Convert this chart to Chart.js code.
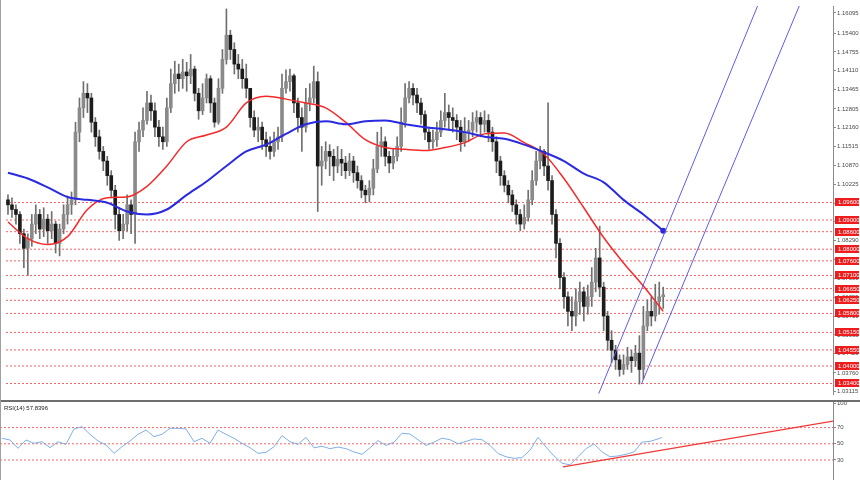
<!DOCTYPE html>
<html>
<head>
<meta charset="utf-8">
<title>EURUSD H4 with RSI</title>
<script src="https://cdn.jsdelivr.net/npm/chart.js@4.4.1/dist/chart.umd.min.js"></script>
<style>
  html, body { margin: 0; padding: 0; background: #fff; }
  #wrap { position: relative; width: 860px; height: 480px; overflow: hidden; }
  #priceBox { position: absolute; left: 0; top: 0; width: 860px; height: 400px; }
  #sep { position: absolute; left: 0; top: 400px; width: 860px; height: 2px; background: #6e6e6e; }
  #rsiBox { position: absolute; left: 0; top: 402px; width: 860px; height: 78px; }
  #edge { position: absolute; left: 0; top: 0; width: 1px; height: 480px; background: #a0a0a0; }
</style>
</head>
<body>
<div id="wrap">
  <div id="priceBox"><canvas id="priceChart"></canvas></div>
  <div id="sep"></div>
  <div id="rsiBox"><canvas id="rsiChart"></canvas></div>
  <div id="edge"></div>
</div>
<script>
// candles, one per bar index
const opens = [
  1.0969, 1.0952, 1.0936, 1.0919, 1.0853, 1.0803, 1.0836, 1.0886, 1.0919, 1.0869,
  1.0903, 1.0863, 1.0886, 1.0820, 1.0869, 1.0919, 1.0952, 1.0969, 1.1201, 1.1284,
  1.1334, 1.1318, 1.1235, 1.1185, 1.1135, 1.1102, 1.1052, 1.1002, 1.0919, 1.0863,
  1.0886, 1.0952, 1.0919, 1.1168, 1.1208, 1.1241, 1.1301, 1.1274, 1.1218, 1.1185,
  1.1168, 1.1284, 1.1367, 1.1400, 1.1384, 1.1407, 1.1394, 1.1417, 1.1334, 1.1274,
  1.1318, 1.1384, 1.1301, 1.1235, 1.1351, 1.1450, 1.1533, 1.1484, 1.1434, 1.1417,
  1.1384, 1.1351, 1.1251, 1.1208, 1.1218, 1.1175, 1.1152, 1.1135, 1.1168, 1.1185,
  1.1351, 1.1374, 1.1394, 1.1301, 1.1251, 1.1218, 1.1301, 1.1318, 1.1374, 1.1085,
  1.1102, 1.1135, 1.1118, 1.1085, 1.1108, 1.1095, 1.1069, 1.1102, 1.1062, 1.1035,
  1.1002, 1.0986, 1.1009, 1.1075, 1.1152, 1.1168, 1.1118, 1.1095, 1.1118, 1.1152,
  1.1235, 1.1318, 1.1351, 1.1328, 1.1301, 1.1261, 1.1201, 1.1168, 1.1175, 1.1201,
  1.1241, 1.1268, 1.1251, 1.1241, 1.1218, 1.1168, 1.1201, 1.1208, 1.1235, 1.1251,
  1.1228, 1.1241, 1.1201, 1.1168, 1.1102, 1.1052, 1.1019, 1.0986, 1.0952, 1.0919,
  1.0886, 1.0909, 1.0969, 1.1035, 1.1102, 1.1135, 1.1085, 1.1035, 1.0919, 1.0820,
  1.0703, 1.0637, 1.0587, 1.0571, 1.0620, 1.0654, 1.0604, 1.0637, 1.0687, 1.0770,
  1.0670, 1.0571, 1.0488, 1.0454, 1.0421, 1.0388, 1.0405, 1.0431, 1.0418, 1.0444,
  1.0388, 1.0537, 1.0587, 1.0571, 1.0620, 1.0637
];
const highs = [
  1.0986, 1.0976, 1.0952, 1.0929, 1.0869, 1.0853, 1.0919, 1.0952, 1.0936, 1.0942,
  1.0919, 1.0929, 1.0896, 1.0886, 1.0952, 1.0982, 1.0996, 1.1235, 1.1318, 1.1374,
  1.1367, 1.1334, 1.1251, 1.1208, 1.1152, 1.1118, 1.1069, 1.1019, 1.0942, 1.0919,
  1.0986, 1.0969, 1.1201, 1.1235, 1.1284, 1.1341, 1.1328, 1.1301, 1.1241, 1.1218,
  1.1318, 1.1417, 1.1444, 1.1434, 1.1450, 1.1440, 1.1467, 1.1427, 1.1351, 1.1367,
  1.1400, 1.1394, 1.1318, 1.1384, 1.1484, 1.1623, 1.1550, 1.1507, 1.1467, 1.1450,
  1.1434, 1.1351, 1.1274, 1.1251, 1.1235, 1.1201, 1.1185, 1.1201, 1.1218, 1.1400,
  1.1414, 1.1417, 1.1400, 1.1318, 1.1284, 1.1351, 1.1367, 1.1427, 1.1407, 1.1152,
  1.1168, 1.1158, 1.1142, 1.1152, 1.1142, 1.1118, 1.1128, 1.1118, 1.1085, 1.1052,
  1.1019, 1.1035, 1.1108, 1.1201, 1.1218, 1.1185, 1.1135, 1.1142, 1.1185, 1.1284,
  1.1367, 1.1374, 1.1367, 1.1351, 1.1318, 1.1274, 1.1218, 1.1208, 1.1235, 1.1274,
  1.1334, 1.1294, 1.1284, 1.1261, 1.1241, 1.1251, 1.1241, 1.1268, 1.1274, 1.1268,
  1.1274, 1.1261, 1.1218, 1.1185, 1.1118, 1.1069, 1.1035, 1.1002, 1.0969, 1.0936,
  1.0952, 1.1002, 1.1069, 1.1135, 1.1152, 1.1142, 1.1301, 1.1052, 1.0936, 1.0836,
  1.0720, 1.0654, 1.0637, 1.0664, 1.0687, 1.0670, 1.0677, 1.0737, 1.0803, 1.0879,
  1.0687, 1.0587, 1.0521, 1.0471, 1.0438, 1.0438, 1.0464, 1.0454, 1.0471, 1.0504,
  1.0604, 1.0627, 1.0637, 1.0680, 1.0687, 1.0670
];
const lows = [
  1.0919, 1.0909, 1.0886, 1.0820, 1.0737, 1.0710, 1.0810, 1.0853, 1.0836, 1.0843,
  1.0820, 1.0836, 1.0787, 1.0777, 1.0853, 1.0886, 1.0919, 1.0952, 1.1168, 1.1251,
  1.1268, 1.1201, 1.1152, 1.1108, 1.1069, 1.1019, 1.0976, 1.0869, 1.0830, 1.0836,
  1.0863, 1.0853, 1.0820, 1.1135, 1.1185, 1.1228, 1.1241, 1.1185, 1.1152, 1.1142,
  1.1152, 1.1268, 1.1334, 1.1341, 1.1351, 1.1341, 1.1367, 1.1308, 1.1245, 1.1261,
  1.1301, 1.1268, 1.1218, 1.1228, 1.1334, 1.1434, 1.1450, 1.1400, 1.1384, 1.1351,
  1.1318, 1.1218, 1.1185, 1.1168, 1.1142, 1.1118, 1.1108, 1.1118, 1.1142, 1.1168,
  1.1334, 1.1341, 1.1268, 1.1201, 1.1135, 1.1201, 1.1274, 1.1301, 1.0929, 1.1019,
  1.1075, 1.1052, 1.1035, 1.1062, 1.1052, 1.1042, 1.1052, 1.1029, 1.1009, 1.0976,
  1.0959, 1.0962, 1.0986, 1.1062, 1.1118, 1.1085, 1.1062, 1.1075, 1.1102, 1.1135,
  1.1218, 1.1301, 1.1294, 1.1268, 1.1228, 1.1175, 1.1142, 1.1145, 1.1152, 1.1185,
  1.1218, 1.1208, 1.1201, 1.1175, 1.1135, 1.1152, 1.1168, 1.1185, 1.1201, 1.1185,
  1.1201, 1.1168, 1.1135, 1.1062, 1.1019, 1.0996, 1.0959, 1.0929, 1.0886, 1.0863,
  1.0869, 1.0896, 1.0952, 1.1019, 1.1075, 1.1052, 1.1002, 1.0886, 1.0770, 1.0664,
  1.0597, 1.0537, 1.0521, 1.0537, 1.0577, 1.0554, 1.0577, 1.0604, 1.0654, 1.0637,
  1.0521, 1.0454, 1.0411, 1.0388, 1.0365, 1.0371, 1.0388, 1.0378, 1.0398, 1.0338,
  1.0355, 1.0521, 1.0537, 1.0554, 1.0577, 1.0597
];
const closes = [
  1.0952, 1.0936, 1.0919, 1.0853, 1.0803, 1.0836, 1.0886, 1.0919, 1.0869, 1.0903,
  1.0863, 1.0886, 1.0820, 1.0869, 1.0919, 1.0952, 1.0969, 1.1201, 1.1284, 1.1334,
  1.1318, 1.1235, 1.1185, 1.1135, 1.1102, 1.1052, 1.1002, 1.0919, 1.0863, 1.0886,
  1.0952, 1.0919, 1.1168, 1.1208, 1.1241, 1.1301, 1.1274, 1.1218, 1.1185, 1.1168,
  1.1284, 1.1367, 1.1400, 1.1384, 1.1407, 1.1394, 1.1417, 1.1334, 1.1274, 1.1318,
  1.1384, 1.1301, 1.1235, 1.1351, 1.1450, 1.1533, 1.1484, 1.1434, 1.1417, 1.1384,
  1.1351, 1.1251, 1.1208, 1.1218, 1.1175, 1.1152, 1.1135, 1.1168, 1.1185, 1.1351,
  1.1374, 1.1394, 1.1301, 1.1251, 1.1218, 1.1301, 1.1318, 1.1374, 1.1085, 1.1102,
  1.1135, 1.1118, 1.1085, 1.1108, 1.1095, 1.1069, 1.1102, 1.1062, 1.1035, 1.1002,
  1.0986, 1.1009, 1.1075, 1.1152, 1.1168, 1.1118, 1.1095, 1.1118, 1.1152, 1.1235,
  1.1318, 1.1351, 1.1328, 1.1301, 1.1261, 1.1201, 1.1168, 1.1175, 1.1201, 1.1241,
  1.1268, 1.1251, 1.1241, 1.1218, 1.1168, 1.1201, 1.1208, 1.1235, 1.1251, 1.1228,
  1.1241, 1.1201, 1.1168, 1.1102, 1.1052, 1.1019, 1.0986, 1.0952, 1.0919, 1.0886,
  1.0909, 1.0969, 1.1035, 1.1102, 1.1135, 1.1085, 1.1035, 1.0919, 1.0820, 1.0703,
  1.0637, 1.0587, 1.0571, 1.0620, 1.0654, 1.0604, 1.0637, 1.0687, 1.0770, 1.0670,
  1.0571, 1.0488, 1.0454, 1.0421, 1.0388, 1.0405, 1.0431, 1.0418, 1.0444, 1.0388,
  1.0537, 1.0587, 1.0571, 1.0620, 1.0637, 1.0644
];

// moving averages, read every 5 bars
const maIndex = [0, 5, 10, 15, 20, 25, 30, 35, 40, 45, 50, 55, 60, 65, 70, 75, 80,
  85, 90, 95, 100, 105, 110, 115, 120, 125, 130, 135, 140, 145, 150, 155, 160, 165];
const maRed = [1.0893, 1.0836, 1.0816, 1.0843, 1.0936, 1.0976, 1.0979, 1.1015, 1.1085,
  1.1168, 1.1191, 1.1218, 1.1301, 1.1324, 1.1314, 1.1301, 1.1284, 1.1235, 1.1175,
  1.1148, 1.1142, 1.1138, 1.1148, 1.1165, 1.1195, 1.1198, 1.1165, 1.1125, 1.1042,
  1.0942, 1.0840, 1.0753, 1.0674, 1.0587];
const maBlue = [1.1062, 1.1042, 1.1012, 1.0979, 1.0969, 1.0959, 1.0929, 1.0919, 1.0936,
  1.0986, 1.1032, 1.1085, 1.1135, 1.1158, 1.1195, 1.1228, 1.1238, 1.1228, 1.1238,
  1.1241, 1.1228, 1.1218, 1.1211, 1.1201, 1.1185, 1.1178, 1.1158, 1.1132, 1.1102,
  1.1059, 1.1029, 1.0969, 1.0919, 1.0863];

// horizontal levels and price axis labels
const levels = [1.0960, 1.0900, 1.0860, 1.0800, 1.0760, 1.0710, 1.0665, 1.0625,
  1.0580, 1.0515, 1.0455, 1.0400, 1.0340];
const priceTicks = [1.16095, 1.15400, 1.14755, 1.14110, 1.13465, 1.12805, 1.12160,
  1.11515, 1.10870, 1.10225, 1.09580, 1.08935, 1.08290, 1.07645, 1.07000, 1.06355,
  1.05710, 1.05065, 1.04420, 1.03760, 1.03115];

// up channel (bar index, price)
const channelLeft = [[148.75, 1.0305], [188.75, 1.1633]];
const channelRight = [[159.5, 1.0338], [199.25, 1.1633]];

// RSI(14)
const rsiIndex = [0, 2, 4, 6, 8, 10, 12, 14, 16, 18, 20, 22, 24, 26, 28, 30, 32, 34, 36,
  38, 40, 42, 44, 46, 48, 50, 52, 54, 56, 58, 60, 62, 64, 66, 68, 70, 72, 74, 76, 78,
  80, 82, 84, 86, 88, 90, 92, 94, 96, 98, 100, 102, 104, 106, 108, 110, 112, 114, 116,
  118, 120, 122, 124, 126, 128, 130, 132, 134, 136, 138, 140, 142, 144, 146, 148, 150,
  152, 154, 156, 158, 160, 162, 164, 165];
const rsiValues = [56.8, 54.7, 44.4, 54.7, 50.6, 52.6, 45.2, 52.6, 49.3, 68.3, 71.1,
  61.7, 53.5, 48.5, 38.2, 46.4, 53.5, 61.7, 67.0, 58.8, 61.7, 69.1, 69.1, 68.3, 52.6,
  56.8, 50.6, 67.0, 61.7, 56.8, 50.6, 45.2, 38.2, 39.5, 46.4, 60.1, 52.6, 49.3, 58.0,
  45.0, 47.0, 44.0, 46.0, 44.0, 40.0, 37.0, 45.0, 54.0, 48.0, 52.0, 63.0, 62.0, 55.0,
  48.0, 52.0, 57.0, 55.0, 50.0, 53.0, 56.0, 55.0, 48.0, 38.0, 34.0, 32.0, 33.0, 42.0,
  58.0, 46.0, 35.0, 26.0, 24.0, 34.0, 44.0, 50.0, 40.0, 34.0, 35.0, 37.0, 40.0, 52.0,
  53.0, 56.0, 57.8];
const rsiTicks = [100, 70, 50, 30];
const rsiLevels = [70, 50, 30];
const rsiTrend = [[140.25, 21.4], [207.75, 78.1]];
const rsiLabel = 'RSI(14) 57.8396';

const xMin = -0.5, xMax = 207.75;
const tickFont = { family: 'Liberation Sans', size: 6 };

function xAxis() {
  return { type: 'linear', min: xMin, max: xMax, display: false, offset: false, grid: { display: false } };
}

function rightAxis(min, max, ticks, digits) {
  return {
    type: 'linear', position: 'right', min: min, max: max, beginAtZero: false,
    afterBuildTicks: s => { s.ticks = ticks.map(v => ({ value: v })); },
    afterFit: s => { s.width = 27; s.paddingTop = 0; s.paddingBottom = 0; },
    grid: { drawOnChartArea: false, drawTicks: true, tickLength: 3, color: '#8a8a8a' },
    border: { display: true, color: '#8a8a8a' },
    ticks: { font: tickFont, color: '#4a4a4a', padding: 1, autoSkip: false,
      callback: v => Number(v).toFixed(digits) }
  };
}

function flatLine(v, color, order) {
  return {
    type: 'line', data: [{ x: xMin, y: v }, { x: xMax, y: v }],
    borderColor: color, borderWidth: 1, borderDash: [2, 2], pointRadius: 0, order: order
  };
}

function segment(points, color, width, order) {
  return {
    type: 'line', data: points.map(p => ({ x: p[0], y: p[1] })),
    borderColor: color, borderWidth: width, pointRadius: 0, order: order
  };
}

const levelTags = {
  id: 'levelTags',
  afterDraw(chart) {
    const ctx = chart.ctx;
    const y = chart.scales.y;
    ctx.save();
    ctx.font = '6px "Liberation Sans"';
    ctx.textBaseline = 'middle';
    levels.forEach(v => {
      const py = Math.round(y.getPixelForValue(v));
      ctx.fillStyle = '#ee1c1c';
      ctx.fillRect(y.left + 2, py - 4, y.width - 3, 8);
      ctx.fillStyle = '#ffffff';
      ctx.fillText(v.toFixed(5), y.left + 5, py + 0.5);
    });
    ctx.restore();
  }
};

const rsiCaption = {
  id: 'rsiCaption',
  afterDraw(chart) {
    const ctx = chart.ctx;
    ctx.save();
    ctx.font = '6px "Liberation Sans"';
    ctx.fillStyle = '#222';
    ctx.textBaseline = 'middle';
    ctx.fillText(rsiLabel, 4, 6);
    ctx.restore();
  }
};

const bodyColors = closes.map((c, i) => c >= opens[i] ? '#8a8a8a' : '#1c1c1c');

const priceDatasets = levels.map(v => flatLine(v, '#f26464', 9));
priceDatasets.push({
  type: 'bar', data: closes.map((c, i) => ({ x: i, y: [lows[i], highs[i]] })),
  backgroundColor: '#707070', barThickness: 1, grouped: false, order: 5
});
priceDatasets.push({
  type: 'bar', data: closes.map((c, i) => ({ x: i, y: [opens[i], c] })),
  backgroundColor: bodyColors, barThickness: 3, grouped: false, order: 4
});
priceDatasets.push({
  type: 'line', data: maIndex.map((x, k) => ({ x: x, y: maRed[k] })),
  borderColor: '#f42a2a', borderWidth: 1.5, pointRadius: 0,
  cubicInterpolationMode: 'monotone', order: 2
});
priceDatasets.push({
  type: 'line', data: maIndex.map((x, k) => ({ x: x, y: maBlue[k] })),
  borderColor: '#2a2ae0', borderWidth: 2, backgroundColor: '#2a2ae0',
  pointRadius: c => c.dataIndex === maIndex.length - 1 ? 2 : 0,
  cubicInterpolationMode: 'monotone', order: 1
});
priceDatasets.push(segment(channelLeft, '#5c5cf0', 1, 0));
priceDatasets.push(segment(channelRight, '#5c5cf0', 1, 0));

new Chart(document.getElementById('priceChart'), {
  type: 'bar',
  data: { datasets: priceDatasets },
  options: {
    responsive: true,
    maintainAspectRatio: false,
    animation: false,
    events: [],
    layout: { padding: 0 },
    plugins: { legend: { display: false }, tooltip: { enabled: false } },
    scales: { x: xAxis(), y: rightAxis(1.0304, 1.1633, priceTicks, 5) }
  },
  plugins: [levelTags]
});

const rsiDatasets = rsiLevels.map(v => flatLine(v, '#f26464', 5));
rsiDatasets.push({
  type: 'line', data: rsiIndex.map((x, k) => ({ x: x, y: rsiValues[k] })),
  borderColor: '#7fb0e6', borderWidth: 1, pointRadius: 0, order: 2
});
rsiDatasets.push(segment(rsiTrend, '#f03838', 1.2, 1));

new Chart(document.getElementById('rsiChart'), {
  type: 'line',
  data: { datasets: rsiDatasets },
  options: {
    responsive: true,
    maintainAspectRatio: false,
    animation: false,
    events: [],
    layout: { padding: 0 },
    plugins: { legend: { display: false }, tooltip: { enabled: false } },
    scales: { x: xAxis(), y: rightAxis(5.3, 101.6, rsiTicks, 0) }
  },
  plugins: [rsiCaption]
});
</script>
</body>
</html>
